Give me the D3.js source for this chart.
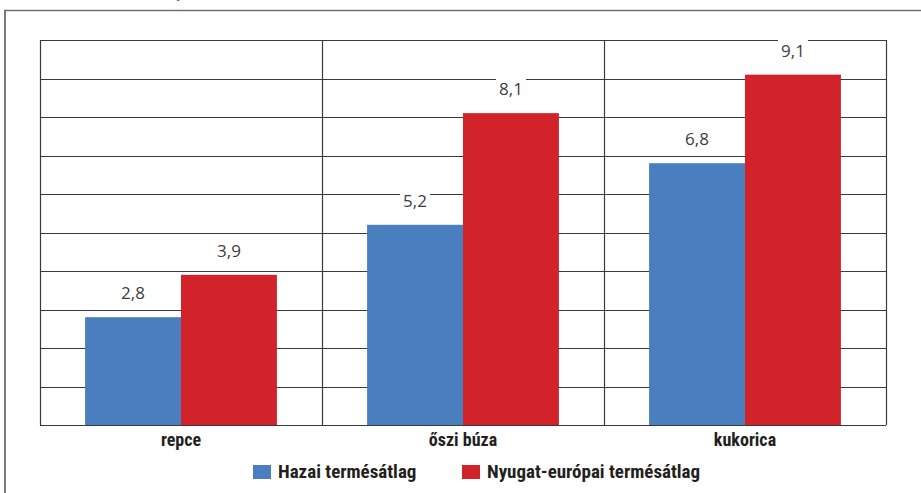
<!DOCTYPE html>
<html><head><meta charset="utf-8">
<script src="https://cdn.jsdelivr.net/npm/d3@7"></script>
<style>html,body{margin:0;padding:0;background:#fff;}svg{display:block;}</style>
</head><body>
<svg id="c" width="921" height="493"></svg>
<script>
const categories = ["repce", "őszi búza", "kukorica"];
const seriesNames = ["Hazai termésátlag", "Nyugat-európai termésátlag"];
const hazai = [2.8, 5.2, 6.8];
const nyugat = [3.9, 8.1, 9.1];
const valueLabels = [["2,8","3,9"],["5,2","8,1"],["6,8","9,1"]];
const yTicks = [0,1,2,3,4,5,6,7,8,9,10];
const colors = ["#4a7fbf", "#d2232b"];

const svg = d3.select("#c");
const W = 921, H = 493;
const m = {left: 40, right: 35, top: 40, bottom: 68};
const x0 = d3.scaleBand().domain(categories).range([m.left, W - m.right]).padding(0);
const x1 = d3.scaleBand().domain(seriesNames).range([0, x0.bandwidth()]).paddingInner(0).paddingOuter(0.47);
const y = d3.scaleLinear().domain([0, 10]).range([H - m.bottom, m.top]);

const condensed = "'Liberation Sans Narrow','Roboto Condensed','Arial Narrow',Roboto,sans-serif";

// frame
svg.append("line").attr("x1", 5).attr("x2", 5).attr("y1", 10).attr("y2", H).attr("stroke", "#7a7a7a").attr("stroke-width", 2);
svg.append("line").attr("x1", 4).attr("x2", W).attr("y1", 10.5).attr("y2", 10.5).attr("stroke", "#6f6f6f").attr("stroke-width", 1.5);
svg.append("text").attr("x", 176).attr("y", -3).attr("font-family", condensed).attr("font-weight", "bold").attr("font-size", 18).attr("fill", "#4a9a3a").text("p");

// gridlines
svg.append("g").selectAll("line").data(yTicks).join("line")
  .attr("x1", m.left).attr("x2", W - m.right)
  .attr("y1", d => Math.round(y(d)) + 0.5).attr("y2", d => Math.round(y(d)) + 0.5)
  .attr("stroke", "#3a3a3a").attr("stroke-width", 1);
// band separators
const seps = categories.map(c => x0(c)).concat([x0.range()[1]]);
svg.append("g").selectAll("line").data(seps).join("line")
  .attr("x1", d => Math.round(d) + 0.5).attr("x2", d => Math.round(d) + 0.5)
  .attr("y1", y(10)).attr("y2", y(0))
  .attr("stroke", "#3a3a3a").attr("stroke-width", 1.2);

const data = categories.map((c, i) => ({cat: c, vals: [hazai[i], nyugat[i]], labels: valueLabels[i]}));
const groups = svg.append("g").selectAll("g").data(data).join("g")
  .attr("transform", d => `translate(${x0(d.cat)},0)`);
groups.selectAll("rect").data(d => d.vals.map((v, j) => ({v, s: seriesNames[j], j}))).join("rect")
  .attr("x", d => x1(d.s)).attr("width", x1.bandwidth())
  .attr("y", d => y(d.v)).attr("height", d => y(0) - y(d.v))
  .attr("fill", d => colors[d.j]);

// value labels with white background
const lab = groups.selectAll("g.lab").data(d => d.vals.map((v, j) => ({v, s: seriesNames[j], t: d.labels[j]}))).join("g").attr("class", "lab");
lab.append("rect")
  .attr("x", d => x1(d.s) + x1.bandwidth() / 2 - 15).attr("width", 30)
  .attr("y", d => y(d.v) - 35).attr("height", 21).attr("fill", "#fff");
lab.append("text")
  .attr("x", d => x1(d.s) + x1.bandwidth() / 2).attr("y", d => y(d.v) - 18)
  .attr("text-anchor", "middle").attr("font-family", "'Open Sans',sans-serif").attr("font-size", 17)
  .attr("fill", "#3d3d3d").text(d => d.t);

// category labels
svg.append("g").selectAll("text").data(categories).join("text")
  .attr("x", d => x0(d) + x0.bandwidth() / 2).attr("y", H - m.bottom + 21)
  .attr("text-anchor", "middle").attr("font-family", condensed).attr("font-weight", "bold")
  .attr("font-size", 18).attr("fill", "#231f20").text(d => d);

// legend
const legX = [253, 462];
const leg = svg.append("g").selectAll("g").data(seriesNames).join("g")
  .attr("transform", (d, i) => `translate(${legX[i]},465)`);
leg.append("rect").attr("width", 18).attr("height", 14).attr("fill", (d, i) => colors[i]);
leg.append("text").attr("x", 25).attr("y", 13).attr("font-family", condensed).attr("font-weight", "bold")
  .attr("font-size", 19).attr("fill", "#231f20").text(d => d);
</script>
</body></html>
